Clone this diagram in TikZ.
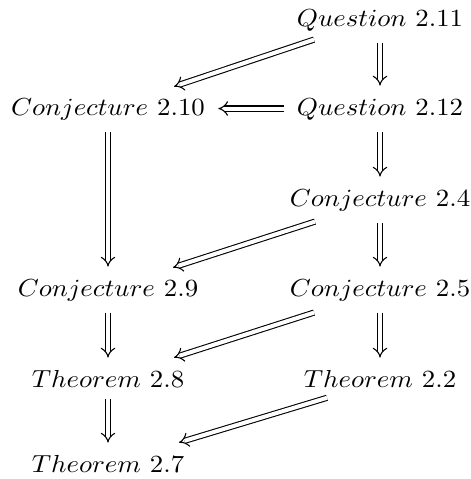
\documentclass[tikz,border=0pt]{standalone}
\usepackage{graphicx}
\usetikzlibrary{arrows.meta,calc}
\tikzset{
  lbl/.style={anchor=base, inner xsep=4.8pt, inner ysep=4.2pt, text height=6.6pt},
  imp/.style={double, double distance=1.5pt, line width=0.4pt, -{Implies}},
}
\newcommand{\lb}[1]{\scalebox{1}[0.92]{#1}}
\begin{document}
\begin{tikzpicture}[x=0.373pt, y=-0.373pt]
\useasboundingbox (0,0) rectangle (470,479);
\node[lbl] (q211) at (380,26)  {\lb{$Question$~2.11}};
\node[lbl] (c210) at (108,115) {\lb{$Conjecture$~2.10}};
\node[lbl] (q212) at (380,115) {\lb{$Question$~2.12}};
\node[lbl] (c24)  at (380,206) {\lb{$Conjecture$~2.4}};
\node[lbl] (c29)  at (108,296) {\lb{$Conjecture$~2.9}};
\node[lbl] (c25)  at (380,296) {\lb{$Conjecture$~2.5}};
\node[lbl] (t28)  at (108,387) {\lb{$Theorem$~2.8}};
\node[lbl] (t22)  at (380,387) {\lb{$Theorem$~2.2}};
\node[lbl] (t27)  at (108,472) {\lb{$Theorem$~2.7}};
\draw[imp] (q211) -- (q212);
\draw[imp] ($(q211.south)+(-66,-3)$) -- ($(c210.north)+(66,1)$);
\draw[imp] (q212) -- (c210);
\draw[imp] (q212) -- (c24);
\draw[imp] (c210) -- (c29);
\draw[imp] ($(c24.south)+(-65,-1)$) -- ($(c29.north)+(65,1)$);
\draw[imp] (c24) -- (c25);
\draw[imp] (c29) -- (t28);
\draw[imp] ($(c25.south)+(-66,0)$) -- ($(t28.north)+(66,0)$);
\draw[imp] (c25) -- (t22);
\draw[imp] (t28) -- (t27);
\draw[imp] ($(t22.south)+(-53,-1)$) -- ($(t27.north)+(71,0)$);
\end{tikzpicture}
\end{document}
